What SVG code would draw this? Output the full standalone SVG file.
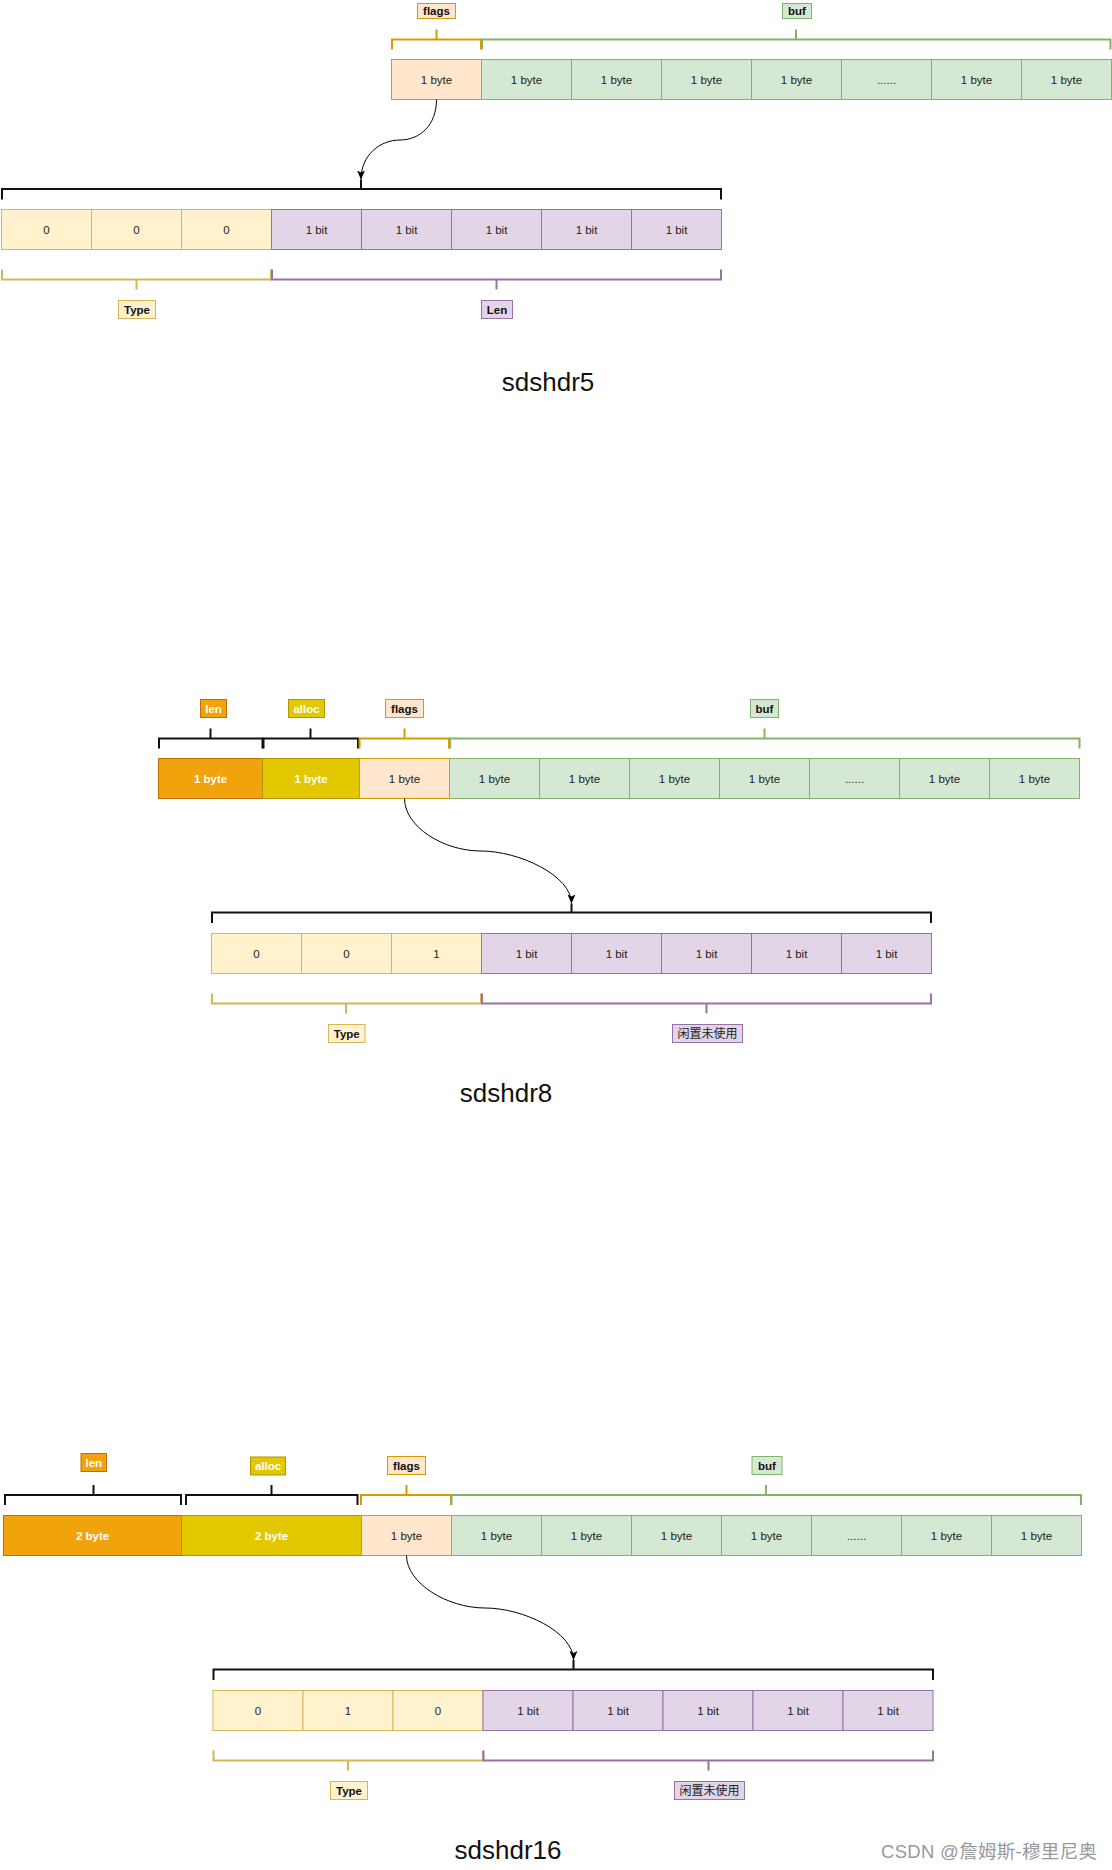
<svg xmlns="http://www.w3.org/2000/svg" width="1112" height="1870" viewBox="0 0 1112 1870">
<defs>
<style>
text{font-family:"Liberation Sans",Arial,Helvetica,"Noto Sans CJK SC",sans-serif;text-anchor:middle;}
.t{font-size:11.5px;fill:#222;}
.tw{font-size:11.5px;fill:#fff;font-weight:bold;}
.lb{font-size:11.5px;fill:#111;font-weight:bold;}
.lw{font-size:11.5px;fill:#fff;font-weight:bold;}
.cjk{font-size:12px;fill:#222;font-family:"Liberation Sans","Noto Sans CJK SC",sans-serif;}
.title{font-size:26px;fill:#111;}
.wm{font-size:18.5px;fill:#999;text-anchor:start;font-family:"Liberation Sans","Noto Sans CJK SC",sans-serif;}
.fl{fill:#ffe6cc;stroke:#d79b00;stroke-width:1;}
.gr{fill:#d5e8d4;stroke:#82b366;stroke-width:1;}
.ty{fill:#fff2cc;stroke:#d6b656;stroke-width:1;}
.pu{fill:#e1d5e7;stroke:#9673a6;stroke-width:1;}
.ln{fill:#f0a30a;stroke:#bd7000;stroke-width:1;}
.al{fill:#e3c800;stroke:#b09500;stroke-width:1;}
.br{fill:none;stroke-width:2;}
.bk{stroke:#111;}
.bfl{stroke:#d79b00;}
.bgr{stroke:#82b366;}
.bty{stroke:#d6b656;}
.bpu{stroke:#9673a6;}
.conn{fill:none;stroke:#000;stroke-width:1;}
</style>
<marker id="arr" markerUnits="userSpaceOnUse" markerWidth="10" markerHeight="10" refX="9" refY="4" orient="auto">
<path d="M0,0 L9,4 L0,8 L2,4 Z" fill="#000"/>
</marker>
</defs>
<rect width="1112" height="1870" fill="#fff"/>

<!-- ===== sdshdr5 ===== -->
<g id="s5-labels">
<rect class="fl" x="417.5" y="3.5" width="38" height="15"/><text class="lb" x="436.5" y="15">flags</text>
<rect class="gr" x="782.5" y="3.5" width="29" height="15"/><text class="lb" x="797" y="15">buf</text>
</g>
<g id="s5-brackets">
<path class="br bfl" d="M392,49.5 V39.5 H481 V49.5 M436.5,39.5 V29.5"/>
<path class="br bgr" d="M482,49.5 V39.5 H1110.5 V49.5 M796,39.5 V29.5"/>
</g>
<g id="s5-row">
<rect class="fl" x="391.5" y="59.5" width="90" height="40"/><text class="t" x="436.5" y="83.5">1 byte</text>
<rect class="gr" x="481.5" y="59.5" width="90" height="40"/><text class="t" x="526.5" y="83.5">1 byte</text>
<rect class="gr" x="571.5" y="59.5" width="90" height="40"/><text class="t" x="616.5" y="83.5">1 byte</text>
<rect class="gr" x="661.5" y="59.5" width="90" height="40"/><text class="t" x="706.5" y="83.5">1 byte</text>
<rect class="gr" x="751.5" y="59.5" width="90" height="40"/><text class="t" x="796.5" y="83.5">1 byte</text>
<rect class="gr" x="841.5" y="59.5" width="90" height="40"/><text class="t" x="886.5" y="83.5">......</text>
<rect class="gr" x="931.5" y="59.5" width="90" height="40"/><text class="t" x="976.5" y="83.5">1 byte</text>
<rect class="gr" x="1021.5" y="59.5" width="90" height="40"/><text class="t" x="1066.5" y="83.5">1 byte</text>
</g>
<g id="s5-bitbracket">
<path class="br bk" d="M2,199.5 V189 H721 V199.5 M361,189 V179.5"/>
</g>
<g id="s5-bits">
<rect class="ty" x="1.5" y="209.5" width="90" height="40"/><text class="t" x="46.5" y="233.5">0</text>
<rect class="ty" x="91.5" y="209.5" width="90" height="40"/><text class="t" x="136.5" y="233.5">0</text>
<rect class="ty" x="181.5" y="209.5" width="90" height="40"/><text class="t" x="226.5" y="233.5">0</text>
<rect class="pu" x="271.5" y="209.5" width="90" height="40"/><text class="t" x="316.5" y="233.5">1 bit</text>
<rect class="pu" x="361.5" y="209.5" width="90" height="40"/><text class="t" x="406.5" y="233.5">1 bit</text>
<rect class="pu" x="451.5" y="209.5" width="90" height="40"/><text class="t" x="496.5" y="233.5">1 bit</text>
<rect class="pu" x="541.5" y="209.5" width="90" height="40"/><text class="t" x="586.5" y="233.5">1 bit</text>
<rect class="pu" x="631.5" y="209.5" width="90" height="40"/><text class="t" x="676.5" y="233.5">1 bit</text>
</g>
<g id="s5-bottom">
<path class="br bty" d="M2,269.5 V279.5 H271 V269.5 M136.5,279.5 V289.5"/>
<path class="br bpu" d="M272,269.5 V279.5 H721 V269.5 M496.5,279.5 V289.5"/>
<rect class="ty" x="118.5" y="300.5" width="37" height="18"/><text class="lb" x="137" y="313.5">Type</text>
<rect class="pu" x="481.5" y="300.5" width="31" height="18"/><text class="lb" x="497" y="313.5">Len</text>
</g>
<text id="t5" class="title" x="548" y="391">sdshdr5</text>

<!-- ===== sdshdr8 ===== -->
<g id="s8-labels">
<rect class="ln" x="200.5" y="699.5" width="26" height="18"/><text class="lw" x="213.5" y="712.5">len</text>
<rect class="al" x="288.5" y="699.5" width="36" height="18"/><text class="lw" x="306.5" y="712.5">alloc</text>
<rect class="fl" x="385.5" y="699.5" width="38" height="18"/><text class="lb" x="404.5" y="712.5">flags</text>
<rect class="gr" x="750.5" y="699.5" width="28" height="18"/><text class="lb" x="764.5" y="712.5">buf</text>
</g>
<g id="s8-brackets">
<path class="br bk" d="M159,748.5 V738.5 H262.5 V748.5 M210.5,738.5 V728.5"/>
<path class="br bk" d="M263.5,748.5 V738.5 H358 V748.5 M310.5,738.5 V728.5"/>
<path class="br bfl" d="M359.5,748.5 V738.5 H449 V748.5 M404.5,738.5 V728.5"/>
<path class="br bgr" d="M450,748.5 V738.5 H1079.5 V748.5 M764.5,738.5 V728.5"/>
</g>
<g id="s8-row">
<rect class="ln" x="158.5" y="758.5" width="104" height="40"/><text class="tw" x="210.5" y="782.5">1 byte</text>
<rect class="al" x="262.5" y="758.5" width="97" height="40"/><text class="tw" x="311" y="782.5">1 byte</text>
<rect class="fl" x="359.5" y="758.5" width="90" height="40"/><text class="t" x="404.5" y="782.5">1 byte</text>
<rect class="gr" x="449.5" y="758.5" width="90" height="40"/><text class="t" x="494.5" y="782.5">1 byte</text>
<rect class="gr" x="539.5" y="758.5" width="90" height="40"/><text class="t" x="584.5" y="782.5">1 byte</text>
<rect class="gr" x="629.5" y="758.5" width="90" height="40"/><text class="t" x="674.5" y="782.5">1 byte</text>
<rect class="gr" x="719.5" y="758.5" width="90" height="40"/><text class="t" x="764.5" y="782.5">1 byte</text>
<rect class="gr" x="809.5" y="758.5" width="90" height="40"/><text class="t" x="854.5" y="782.5">......</text>
<rect class="gr" x="899.5" y="758.5" width="90" height="40"/><text class="t" x="944.5" y="782.5">1 byte</text>
<rect class="gr" x="989.5" y="758.5" width="90" height="40"/><text class="t" x="1034.5" y="782.5">1 byte</text>
</g>
<g id="s8-bitbracket">
<path class="br bk" d="M212,923 V912.5 H931 V923 M571.5,912.5 V903.5"/>
</g>
<g id="s8-bits">
<rect class="ty" x="211.5" y="933.5" width="90" height="40"/><text class="t" x="256.5" y="957.5">0</text>
<rect class="ty" x="301.5" y="933.5" width="90" height="40"/><text class="t" x="346.5" y="957.5">0</text>
<rect class="ty" x="391.5" y="933.5" width="90" height="40"/><text class="t" x="436.5" y="957.5">1</text>
<rect class="pu" x="481.5" y="933.5" width="90" height="40"/><text class="t" x="526.5" y="957.5">1 bit</text>
<rect class="pu" x="571.5" y="933.5" width="90" height="40"/><text class="t" x="616.5" y="957.5">1 bit</text>
<rect class="pu" x="661.5" y="933.5" width="90" height="40"/><text class="t" x="706.5" y="957.5">1 bit</text>
<rect class="pu" x="751.5" y="933.5" width="90" height="40"/><text class="t" x="796.5" y="957.5">1 bit</text>
<rect class="pu" x="841.5" y="933.5" width="90" height="40"/><text class="t" x="886.5" y="957.5">1 bit</text>
</g>
<g id="s8-bottom">
<path class="br bty" d="M212,993.5 V1003.5 H481 V993.5 M346,1003.5 V1013.5"/>
<path class="br bpu" d="M482,993.5 V1003.5 H931 V993.5 M706.5,1003.5 V1013.5"/>
<rect class="ty" x="328.5" y="1024.5" width="36.5" height="18"/><text class="lb" x="346.75" y="1037.5">Type</text>
<rect class="pu" x="672.5" y="1024.5" width="70" height="18"/><text class="cjk" x="707.5" y="1037.8">闲置未使用</text>
</g>
<text id="t8" class="title" x="506" y="1102">sdshdr8</text>

<!-- ===== sdshdr16 ===== -->
<g id="s16-labels">
<rect class="ln" x="81" y="1453.5" width="25.5" height="18"/><text class="lw" x="93.75" y="1466.5">len</text>
<rect class="al" x="250.5" y="1457" width="35" height="18"/><text class="lw" x="268" y="1470">alloc</text>
<rect class="fl" x="387.5" y="1456.5" width="38" height="18"/><text class="lb" x="406.5" y="1469.5">flags</text>
<rect class="gr" x="752" y="1456.5" width="30" height="18"/><text class="lb" x="767" y="1469.5">buf</text>
</g>
<g id="s16-brackets">
<path class="br bk" d="M5,1505 V1495 H181 V1505 M93.5,1495 V1485"/>
<path class="br bk" d="M186,1505 V1495 H357.5 V1505 M271.5,1495 V1485"/>
<path class="br bfl" d="M361,1505 V1495 H451 V1505 M406.5,1495 V1485"/>
<path class="br bgr" d="M451.5,1505 V1495 H1081 V1505 M766,1495 V1485"/>
</g>
<g id="s16-row">
<rect class="ln" x="3.5" y="1515.5" width="178" height="40"/><text class="tw" x="92.5" y="1539.5">2 byte</text>
<rect class="al" x="181.5" y="1515.5" width="180" height="40"/><text class="tw" x="271.5" y="1539.5">2 byte</text>
<rect class="fl" x="361.5" y="1515.5" width="90" height="40"/><text class="t" x="406.5" y="1539.5">1 byte</text>
<rect class="gr" x="451.5" y="1515.5" width="90" height="40"/><text class="t" x="496.5" y="1539.5">1 byte</text>
<rect class="gr" x="541.5" y="1515.5" width="90" height="40"/><text class="t" x="586.5" y="1539.5">1 byte</text>
<rect class="gr" x="631.5" y="1515.5" width="90" height="40"/><text class="t" x="676.5" y="1539.5">1 byte</text>
<rect class="gr" x="721.5" y="1515.5" width="90" height="40"/><text class="t" x="766.5" y="1539.5">1 byte</text>
<rect class="gr" x="811.5" y="1515.5" width="90" height="40"/><text class="t" x="856.5" y="1539.5">......</text>
<rect class="gr" x="901.5" y="1515.5" width="90" height="40"/><text class="t" x="946.5" y="1539.5">1 byte</text>
<rect class="gr" x="991.5" y="1515.5" width="90" height="40"/><text class="t" x="1036.5" y="1539.5">1 byte</text>
</g>
<g id="s16-bitbracket">
<path class="br bk" d="M213.5,1680 V1669.5 H933 V1680 M573.5,1669.5 V1660"/>
</g>
<g id="s16-bits">
<rect class="ty" x="213" y="1690.5" width="90" height="40"/><text class="t" x="258" y="1714.5">0</text>
<rect class="ty" x="303" y="1690.5" width="90" height="40"/><text class="t" x="348" y="1714.5">1</text>
<rect class="ty" x="393" y="1690.5" width="90" height="40"/><text class="t" x="438" y="1714.5">0</text>
<rect class="pu" x="483" y="1690.5" width="90" height="40"/><text class="t" x="528" y="1714.5">1 bit</text>
<rect class="pu" x="573" y="1690.5" width="90" height="40"/><text class="t" x="618" y="1714.5">1 bit</text>
<rect class="pu" x="663" y="1690.5" width="90" height="40"/><text class="t" x="708" y="1714.5">1 bit</text>
<rect class="pu" x="753" y="1690.5" width="90" height="40"/><text class="t" x="798" y="1714.5">1 bit</text>
<rect class="pu" x="843" y="1690.5" width="90" height="40"/><text class="t" x="888" y="1714.5">1 bit</text>
</g>
<g id="s16-bottom">
<path class="br bty" d="M213.5,1750.5 V1760.5 H483 V1750.5 M348,1760.5 V1770.5"/>
<path class="br bpu" d="M483.5,1750.5 V1760.5 H933 V1750.5 M708.5,1760.5 V1770.5"/>
<rect class="ty" x="330.5" y="1781.5" width="37" height="18"/><text class="lb" x="349" y="1794.5">Type</text>
<rect class="pu" x="674.5" y="1781.5" width="70" height="18"/><text class="cjk" x="709.5" y="1794.8">闲置未使用</text>
</g>
<text id="t16" class="title" x="508" y="1859">sdshdr16</text>

<!-- ===== connectors ===== -->
<g id="connectors">
<path class="conn" marker-end="url(#arr)" d="M436.5,99.5 C436.5,125 420,140 400,140 C380,140 361,155 361,179.5"/>
<path class="conn" marker-end="url(#arr)" d="M404.5,798.5 C404.5,826.5 443,851 481,851 C519,851 571.5,875.5 571.5,903.5"/>
<path class="conn" marker-end="url(#arr)" d="M406.5,1555.5 C406.5,1583 447,1608 485,1608 C523,1608 573.5,1632 573.5,1660"/>
</g>

<text id="watermark" class="wm" x="881" y="1858" textLength="216" lengthAdjust="spacing">CSDN @詹姆斯-穆里尼奥</text>
</svg>
